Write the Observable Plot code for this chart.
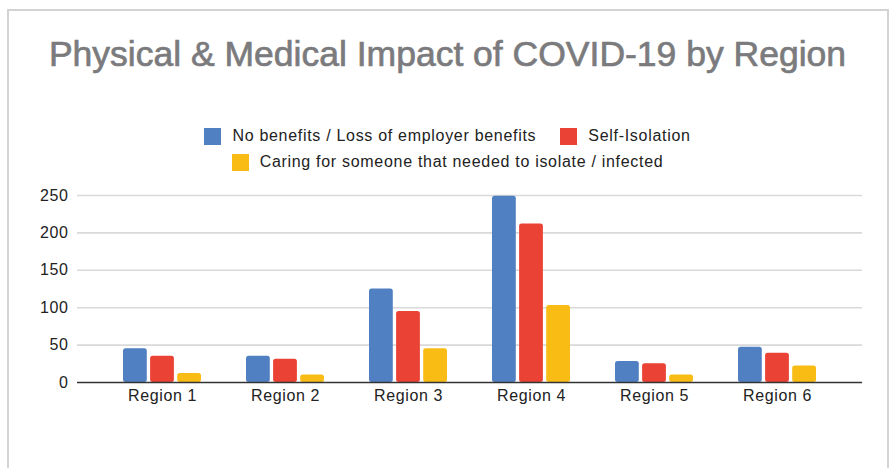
<!DOCTYPE html>
<html>
<head>
<meta charset="utf-8">
<script src="https://cdn.jsdelivr.net/npm/d3@7"></script>
<script src="https://cdn.jsdelivr.net/npm/@observablehq/plot@0.6"></script>
<style>
  html, body { margin: 0; padding: 0; background: #fff; }
  body { width: 895px; height: 468px; position: relative; overflow: hidden; font-family: "Liberation Sans", Arial, Helvetica, sans-serif; }
  #frame { position: absolute; left: 7px; top: 9px; width: 882px; height: 480px; border: 2px solid #d3d3d3; box-sizing: border-box; }
  #title { position: absolute; left: 0; top: 34px; width: 895px; text-align: center; font-size: 35.5px; color: #7b7b7e; -webkit-text-stroke: 0.7px #7b7b7e; white-space: nowrap; line-height: 40px; }
  .legend-row { position: absolute; left: 0; width: 895px; display: flex; justify-content: center; align-items: center; font-size: 16px; letter-spacing: 0.7px; color: #222; white-space: nowrap; }
  .item { display: flex; align-items: center; margin: 0 12px; }
  .swatch { width: 17px; height: 17px; margin-right: 11px; }
  #chart { position: absolute; left: 0; top: 180px; }
</style>
</head>
<body>
<div id="frame"></div>
<div id="title">Physical &amp; Medical Impact of COVID-19 by Region</div>
<div id="legend1" class="legend-row" style="top:126px;height:20px;"></div>
<div id="legend2" class="legend-row" style="top:152px;height:20px;"></div>
<div id="chart"></div>
<script>
const regions = ["Region 1", "Region 2", "Region 3", "Region 4", "Region 5", "Region 6"];
const seriesNames = [
  "No benefits / Loss of employer benefits",
  "Self-Isolation",
  "Caring for someone that needed to isolate / infected"
];
const noBenefits    = [45, 35, 125, 249, 28, 47];
const selfIsolation = [35, 31, 95, 212, 25, 39];
const caring        = [12, 10, 45, 103, 10, 22];
const seriesColors  = ["#5180c2", "#ea4335", "#f9bc15"];
const yTicks = [0, 50, 100, 150, 200, 250];

const seriesValues = [noBenefits, selfIsolation, caring];
const table = [];
seriesNames.forEach((s, i) => regions.forEach((r, j) => table.push({region: r, series: s, value: seriesValues[i][j]})));

// legend
const rows = [[0, 1], [2]];
rows.forEach((row, k) => {
  const el = document.getElementById(k === 0 ? "legend1" : "legend2");
  row.forEach(i => {
    const it = document.createElement("div");
    it.className = "item";
    it.innerHTML = `<span class="swatch" style="background:${seriesColors[i]}"></span><span>${seriesNames[i]}</span>`;
    el.appendChild(it);
  });
});

// bar placement inside each band (pixel insets)
const insets = [[0, 54.2], [27.1, 27.1], [54.2, 0]];

const chart = Plot.plot({
  width: 895,
  height: 260,
  marginLeft: 77,
  marginRight: 33,
  marginTop: 15,
  marginBottom: 58,
  style: {fontFamily: "'Liberation Sans', Arial, sans-serif", fontSize: "16px", background: "transparent", overflow: "visible"},
  x: {domain: regions, padding: 0.365, axis: null},
  y: {domain: [0, 250], axis: null},
  color: {domain: seriesNames, range: seriesColors},
  marks: [
    Plot.ruleY(yTicks.filter(d => d > 0), {stroke: "#d9d9d9", strokeWidth: 1.6}),
    ...seriesNames.map((s, i) => Plot.barY(table.filter(d => d.series === s), {
      x: "region", y: "value", fill: "series",
      insetLeft: insets[i][0], insetRight: insets[i][1], rx: 2.5
    })),
    Plot.ruleY([0], {stroke: "#333", strokeWidth: 1.6}),
    Plot.text(yTicks, {y: d => d, frameAnchor: "left", textAnchor: "end", dx: -9, fill: "#222", fontSize: 16, text: d => String(d)}),
    Plot.text(regions, {x: d => d, frameAnchor: "bottom", dy: 18, fill: "#222", fontSize: 16, text: d => d})
  ]
});
chart.style.letterSpacing = "0.6px";
document.getElementById("chart").appendChild(chart);
</script>
</body>
</html>
